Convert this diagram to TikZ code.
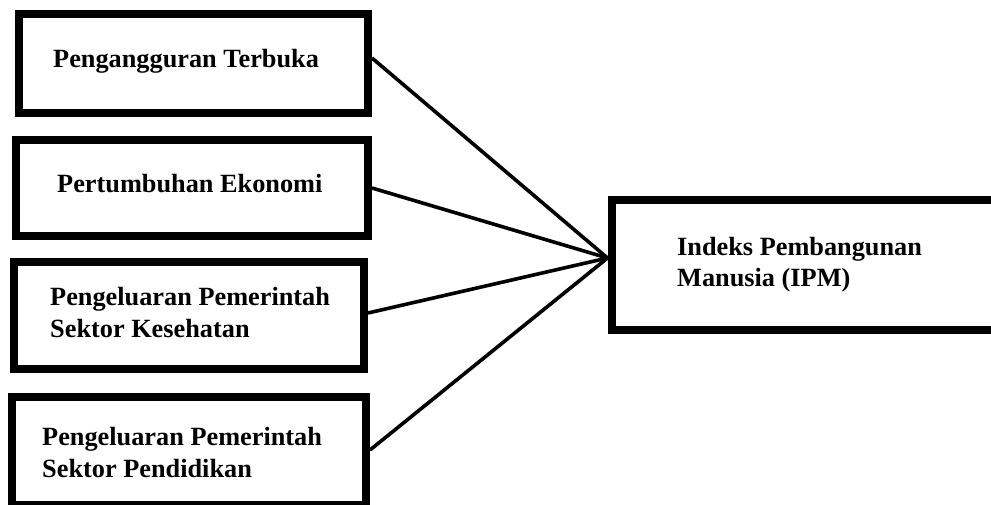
\documentclass[tikz,border=0pt]{standalone}
\usepackage{fontspec}
\setmainfont{Liberation Serif}
\begin{document}
\begin{tikzpicture}[x=1pt,y=-1pt,
  box/.style={draw=black, line width=8pt, rectangle, fill=white, inner sep=0pt},
  lbl/.style={anchor=base west, inner sep=0pt, align=left, font=\fontsize{26.3}{32}\selectfont\bfseries},
  conn/.style={draw=black, line width=3.6pt}]
\useasboundingbox[fill=white] (0,0) rectangle (991,505);
\node[box, minimum width=349pt, minimum height=99pt] (b1) at (193.5,63.5) {};
\node[box, minimum width=352pt, minimum height=96pt] (b2) at (192,188) {};
\node[box, minimum width=350pt, minimum height=107pt] (b3) at (189,315.5) {};
\node[box, minimum width=354pt, minimum height=108pt] (b4) at (189,451) {};
\node[box, minimum width=398.5pt, minimum height=130pt] (ipm) at (810.75,265) {};
\node[lbl] (t1) at (53,68) {Pengangguran Terbuka};
\node[lbl] (t2) at (57,193) {Pertumbuhan Ekonomi};
\node[lbl] (t3) at (50,337) {Pengeluaran Pemerintah\\Sektor Kesehatan};
\node[lbl] (t4) at (42,477) {Pengeluaran Pemerintah\\Sektor Pendidikan};
\node[lbl] (t5) at (677,287) {Indeks Pembangunan\\Manusia (IPM)};
\coordinate (hub) at ([yshift=7pt]ipm.west);
\draw[conn] ([yshift=5.5pt]b1.east) -- (hub);
\draw[conn] (b2.east) -- (hub);
\draw[conn] ([yshift=2.5pt]b3.east) -- (hub);
\draw[conn] ([yshift=1pt]b4.east) -- (hub);
\end{tikzpicture}
\end{document}
